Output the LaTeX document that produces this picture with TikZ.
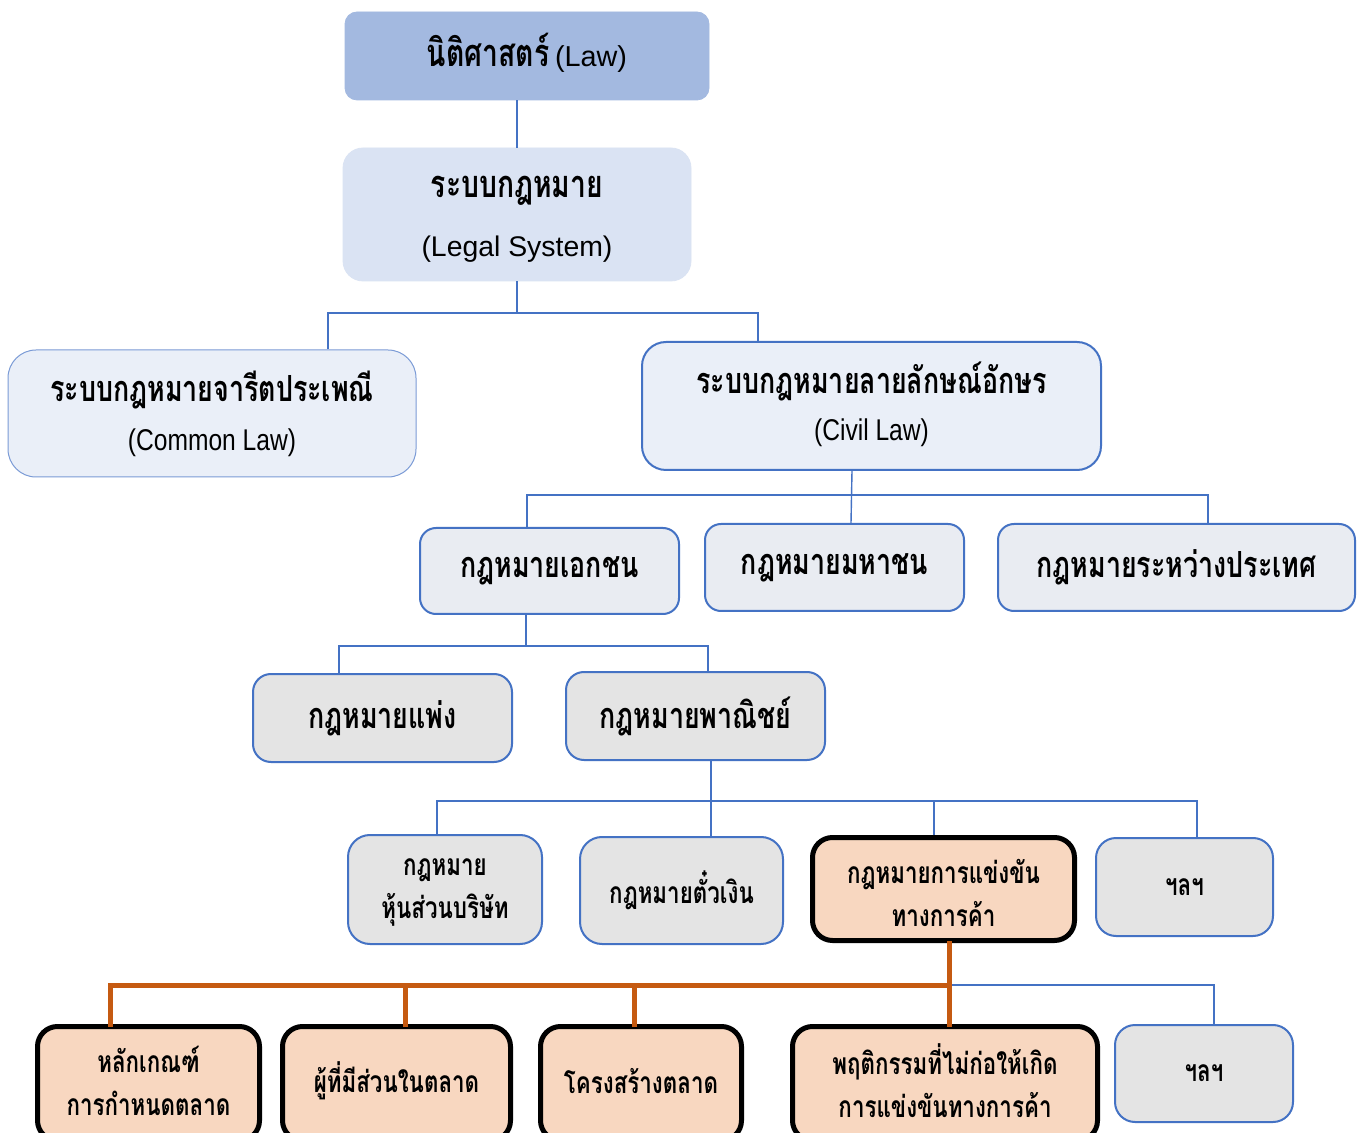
\documentclass[tikz,border=0pt]{standalone}
\usepackage{fontspec}
\setmainfont{Liberation Sans}
\newfontfamily\thai[Script=Thai, FakeStretch=0.745]{Loma}
\newfontfamily\narrow[FakeStretch=0.82]{Liberation Sans}
\usetikzlibrary{calc}
\definecolor{lawfill}{HTML}{A3B9E0}
\definecolor{sysfill}{HTML}{DAE3F3}
\definecolor{famfill}{HTML}{EAEFF8}
\definecolor{brfill}{HTML}{E9ECF2}
\definecolor{grayfill}{HTML}{E4E4E4}
\definecolor{peach}{HTML}{F8D7C0}
\definecolor{lineblue}{HTML}{4472C4}
\definecolor{softblue}{HTML}{7B9BD6}
\definecolor{rust}{HTML}{C55A11}
\newcommand{\thb}{\thai\bfseries}
\begin{document}
\begin{tikzpicture}[x=0.5pt,y=-0.5pt,
  box/.style={rounded corners=#1, align=center, inner sep=0pt, text=black},
  box/.default=8pt,
  topbox/.style={box=6pt, fill=lawfill, draw=lawfill},
  sysbox/.style={box=10pt, fill=sysfill, draw=sysfill},
  fambox/.style={box=12pt, fill=famfill, draw=lineblue, line width=1pt},
  brbox/.style={box=8pt, fill=brfill, draw=lineblue, line width=1pt},
  graybox/.style={box=9pt, fill=grayfill, draw=lineblue, line width=1pt},
  hotbox/.style={box=10pt, fill=peach, draw=black, line width=2.5pt},
  label/.style={align=center, inner sep=0pt, text=black},
  conn/.style={draw=lineblue, line width=0.7pt},
  hotconn/.style={draw=rust, line width=2.5pt, line cap=rect},
  bigthai/.style={font=\fontsize{18}{22}\thb},
  smallthai/.style={font=\fontsize{15}{21.5}\thb},
]
\useasboundingbox (0,0) rectangle (1360,1133);
\clip (0,0) rectangle (1360,1133);
\fill[white] (0,0) rectangle (1360,1133);

% top levels: box first, its label placed on top
\node[topbox, minimum width=182pt, minimum height=44pt] (law) at (527,56) {};
\node[label] (lawtxt) at (527,53)
  {{\fontsize{19}{22}\thb นิติศาสตร์} {\fontsize{14.4}{17}\selectfont (Law)}};
\node[sysbox, minimum width=174pt, minimum height=66.5pt] (legal) at (517,214.5) {};
\node[label] (legaltxt) at (517,219)
  {{\fontsize{19}{22}\thb ระบบกฎหมาย}\\[14pt]{\fontsize{14.2}{17}\selectfont (Legal System)}};
\node[fambox, draw=softblue, line width=0.5pt, rounded corners=14pt, minimum width=204pt, minimum height=63.5pt] (common) at (212,413.5) {};
\node[label] (commontxt) at (212,414)
  {{\fontsize{18}{22}\thb ระบบกฎหมายจารีตประเพณี}\\[8.5pt]{\fontsize{15}{17}\narrow (Common Law)}};
\node[fambox, minimum width=229.5pt, minimum height=64pt] (civil) at (871.5,406) {};
\node[label] (civiltxt) at (871.5,404)
  {{\fontsize{18}{22}\thb ระบบกฎหมายลายลักษณ์อักษร}\\[8pt]{\fontsize{15}{17}\narrow (Civil Law)}};

% branches of civil law
\node[brbox, bigthai, minimum width=129.5pt, minimum height=43pt] (priv) at (549.5,571) {กฎหมายเอกชน};
\node[brbox, bigthai, minimum width=129.5pt, minimum height=43.5pt] (pub) at (834.5,567.5) {กฎหมายมหาชน};
\node[brbox, bigthai, minimum width=178.5pt, minimum height=43.5pt] (intl) at (1176.5,567.5) {กฎหมายระหว่างประเทศ};

% private law
\node[graybox, bigthai, minimum width=129.5pt, minimum height=44pt] (civ) at (382.5,718) {กฎหมายแพ่ง};
\node[graybox, bigthai, minimum width=129.5pt, minimum height=44pt] (comm) at (695.5,716) {กฎหมายพาณิชย์};

% commercial law
\node[graybox, rounded corners=11pt, minimum width=97pt, minimum height=54.5pt] (company) at (445,889.5) {};
\node[label, smallthai] (companytxt) at (445,892) {กฎหมาย\\หุ้นส่วนบริษัท};
\node[graybox, smallthai, rounded corners=11pt, minimum width=101.5pt, minimum height=53.5pt] (bill) at (681.5,890.5) {กฎหมายตั๋วเงิน};
\node[hotbox, minimum width=131pt, minimum height=51.5pt] (compet) at (943.5,889) {};
\node[label, smallthai] (compettxt) at (943.5,893) {กฎหมายการแข่งขัน\\ทางการค้า};
\node[graybox, smallthai, rounded corners=10pt, minimum width=88.5pt, minimum height=49pt] (etc1) at (1184.5,887) {ฯลฯ};

% competition law
\node[hotbox, minimum width=111pt, minimum height=57pt] (rule) at (148.5,1083.5) {};
\node[label, smallthai] (ruletxt) at (148.5,1081) {หลักเกณฑ์\\การกำหนดตลาด};
\node[hotbox, minimum width=114pt, minimum height=57pt] (part) at (396.5,1083.5) {};
\node[label, smallthai] (parttxt) at (396.5,1081) {ผู้ที่มีส่วนในตลาด};
\node[hotbox, minimum width=100.5pt, minimum height=57pt] (struct) at (641,1083.5) {};
\node[label, smallthai] (structtxt) at (641,1081) {โครงสร้างตลาด};
\node[hotbox, minimum width=152.5pt, minimum height=57pt] (behav) at (945,1083.5) {};
\node[label, smallthai] (behavtxt) at (945,1081) {พฤติกรรมที่ไม่ก่อให้เกิด\\การแข่งขันทางการค้า};
\node[graybox, smallthai, rounded corners=10pt, minimum width=89pt, minimum height=48.5pt] (etc2) at (1204,1073.5) {ฯลฯ};

% connectors
\draw[conn] (law.south -| legal.north) -- (legal.north);

\coordinate (bus1) at (514,313);
\draw[conn] (legal.south) -- (legal.south |- bus1);
\draw[conn] ($(common.north)+(116,0)$) |- (bus1) -| ($(civil.north)+(-113.5,0)$);

\coordinate (bus2) at (852,495);
\draw[conn] ($(civil.south)+(-19.5,0)$) -- ($(pub.north)+(16.5,0)$);
\draw[conn] ($(priv.north)+(-22.5,0)$) |- (bus2) -| ($(intl.north)+(31.5,0)$);

\coordinate (bus3) at (526,646);
\draw[conn] ($(priv.south)+(-23.5,0)$) -- (bus3);
\draw[conn] ($(civ.north)+(-43.5,0)$) |- (bus3) -| ($(comm.north)+(12.5,0)$);

\coordinate (bus4) at (711,801);
\draw[conn] ($(comm.south)+(15.5,0)$) -- ($(bill.north)+(29.5,0)$);
\draw[conn] ($(company.north)+(-8,0)$) |- (bus4) -| ($(etc1.north)+(12.5,0)$);
\draw[conn] ($(compet.north)+(-9.5,0)$) |- (bus4);

\coordinate (obus) at (949,985);
\draw[conn] (obus) -| ($(etc2.north)+(10,0)$);
\draw[hotconn] (compet.south -| obus) -- (behav.north -| obus);
\draw[hotconn] ($(rule.north)+(-38.5,0)$) |- (obus);
\draw[hotconn] ($(part.north)+(8.5,0)$) |- (obus);
\draw[hotconn] ($(struct.north)+(-7,0)$) |- (obus);
\end{tikzpicture}
\end{document}
